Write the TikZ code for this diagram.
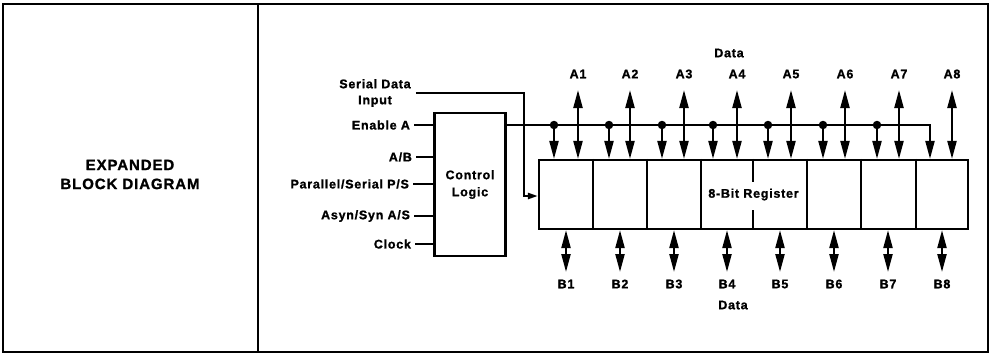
\documentclass[tikz,border=0pt]{standalone}
\usepackage{fontspec}
\setmainfont{Liberation Sans}[LetterSpace=6,BoldFeatures={FakeBold=1.2}]
\usetikzlibrary{arrows.meta}
\begin{document}
\begin{tikzpicture}[x=1pt,y=-1pt,line width=2.2pt,
  lbl/.style={font=\fontsize{12.5}{16}\selectfont\bfseries,inner sep=0pt},
  box/.style={draw,inner sep=0pt,font=\fontsize{12.5}{17}\selectfont\bfseries,align=center},
  tip/.tip={Triangle[length=18pt,width=9pt]},
  bi/.style={{tip}-{tip}},
  one/.style={-{tip}},
  small/.style={-{Triangle[length=10pt,width=6pt]}},
  dot/.style={circle,fill,inner sep=0pt,minimum size=8.5pt}]
\useasboundingbox (0,0) rectangle (999,359);
% frame
\draw (3,4) rectangle (988,352);
\draw (258,4) -- (258,352);
\node[inner sep=0pt,align=center,font=\fontsize{15}{19}\selectfont\bfseries] (title) at (130,174.5) {EXPANDED\\BLOCK DIAGRAM};
% control logic
\node[box,minimum width=71pt,minimum height=143pt] (ctl) at (470,184.5) {Control\\Logic};
% register
\node[box,minimum width=429pt,minimum height=69pt] (reg) at (753.5,194.5) {8-Bit Register};
\foreach \x in {593,647,701,807,861,916}{
  \draw (\x,0 |- reg.north) -- (\x,0 |- reg.south);
}
\coordinate (mt) at (753,182);
\coordinate (mb) at (753,210);
\draw (mt |- reg.north) -- (mt);
\draw (mb) -- (mb |- reg.south);
% left labels
\node[lbl,anchor=east] (en) at (411,125) {Enable A};
\node[lbl,anchor=east] (ab) at (413,157) {A/B};
\node[lbl,anchor=east] (ps) at (410,184) {Parallel/Serial P/S};
\node[lbl,anchor=east] (as) at (411,216) {Asyn/Syn A/S};
\node[lbl,anchor=east] (ck) at (412,244) {Clock};
\foreach \n in {en,ab,ps,as,ck}{
  \draw ([xshift=3pt]\n.east) -- (\n.east -| ctl.west);
}
\node[lbl,align=center] (sdi) at (375,93) {Serial Data\\Input};
\coordinate (sbend) at (524,196);
\draw[small] ([xshift=4pt]sdi.east) -| (sbend) -- (sbend -| reg.west);
% enable bus
\coordinate (busend) at (930,125);
\draw[one] (ctl.east |- en) -- (busend) -- (busend |- reg.north);
\foreach \x [count=\i] in {554,609,662,713,768,823,877}{
  \node[dot] (d\i) at (\x,125) {};
  \draw[one] (d\i.center) -- (d\i |- reg.north);
}
% A data lines
\node[lbl] (dtop) at (729,53) {Data};
\foreach \x [count=\i] in {578,630,684,737,791,845,899,952}{
  \node[lbl] (a\i) at (\x,74) {A\i};
  \coordinate (at\i) at (\x,90);
  \draw[bi] (at\i) -- (at\i |- reg.north);
}
% B data lines
\node[lbl] (dbot) at (733,305) {Data};
\foreach \x [count=\i] in {566,620,674,727,780,834,888,942}{
  \node[lbl] (b\i) at (\x,284) {B\i};
  \coordinate (bt\i) at (\x,272);
  \draw[bi] (bt\i |- reg.south) -- (bt\i);
}
\end{tikzpicture}
\end{document}
